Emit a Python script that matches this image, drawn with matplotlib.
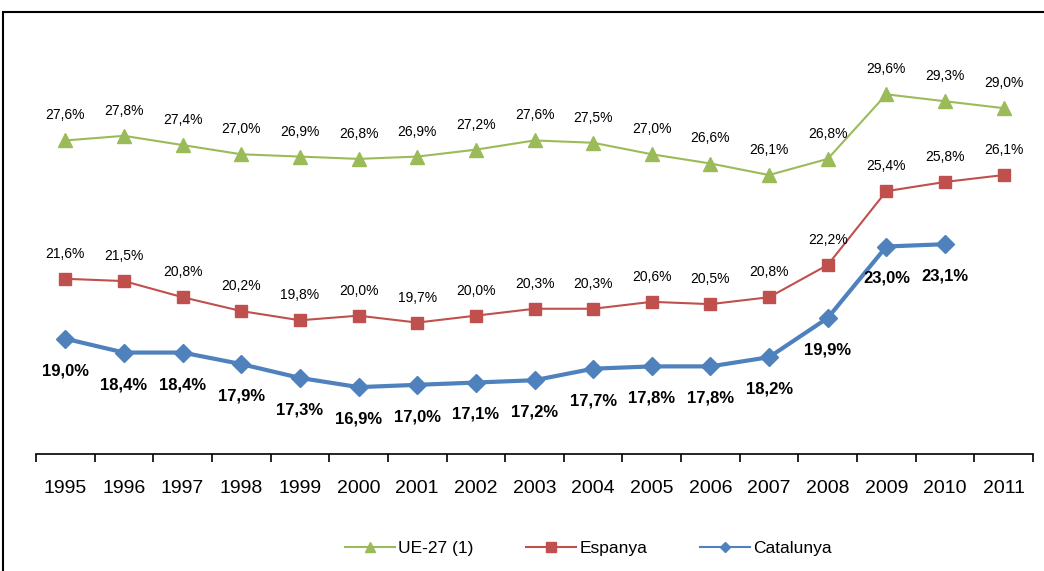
import matplotlib
matplotlib.use("Agg")
import matplotlib.pyplot as plt
from matplotlib.patches import Rectangle
from matplotlib.lines import Line2D
import numpy as np

years = ["1995", "1996", "1997", "1998", "1999", "2000", "2001", "2002", "2003",
         "2004", "2005", "2006", "2007", "2008", "2009", "2010", "2011"]
ue27 = [27.6, 27.8, 27.4, 27.0, 26.9, 26.8, 26.9, 27.2, 27.6, 27.5, 27.0, 26.6,
        26.1, 26.8, 29.6, 29.3, 29.0]
espanya = [21.6, 21.5, 20.8, 20.2, 19.8, 20.0, 19.7, 20.0, 20.3, 20.3, 20.6, 20.5,
           20.8, 22.2, 25.4, 25.8, 26.1]
catalunya = [19.0, 18.4, 18.4, 17.9, 17.3, 16.9, 17.0, 17.1, 17.2, 17.7, 17.8, 17.8,
             18.2, 19.9, 23.0, 23.1]
series_names = ["UE-27 (1)", "Espanya", "Catalunya"]

plt.rcParams['font.family'] = ['Liberation Sans', 'DejaVu Sans']

fig = plt.figure(figsize=(10.44, 5.71), dpi=100)
ax = fig.add_axes([36/1044, 1-454/571, (1033-36)/1044, (454-39)/571])

x = np.arange(len(years))
green, red, blue = "#9BBB59", "#C0504D", "#4F81BD"

ax.plot(x, ue27, color=green, lw=1.5, marker="^", ms=10)
ax.plot(x, espanya, color=red, lw=1.5, marker="s", ms=9)
ax.plot(x[:len(catalunya)], catalunya, color=blue, lw=3.0, marker="D", ms=9)

def fmt(v):
    return f"{v:.1f}%".replace(".", ",")

for xi, v in zip(x, ue27):
    ax.annotate(fmt(v), (xi, v), xytext=(0, 18), textcoords="offset points",
                ha="center", va="center", fontsize=10)
for xi, v in zip(x, espanya):
    ax.annotate(fmt(v), (xi, v), xytext=(0, 18), textcoords="offset points",
                ha="center", va="center", fontsize=10)
for xi, v in zip(x, catalunya):
    ax.annotate(fmt(v), (xi, v), xytext=(0, -23), textcoords="offset points",
                ha="center", va="center", fontsize=12, fontweight="bold")

ax.set_xlim(-0.5, len(years) - 0.5)
ax.set_ylim(14, 32)
ax.set_yticks([])
for s in ["top", "right", "left"]:
    ax.spines[s].set_visible(False)
ax.spines["bottom"].set_linewidth(1.2)
ax.set_xticks(np.arange(-0.5, len(years), 1.0))
ax.set_xticklabels([])
ax.tick_params(axis="x", direction="out", length=6, width=1.2)
ax.set_xticks(x, minor=True)
ax.set_xticklabels(years, minor=True, fontsize=14)
ax.tick_params(axis="x", which="minor", length=0, pad=19)

handles = [
    Line2D([], [], color=green, lw=1.5, marker="^", ms=7),
    Line2D([], [], color=red, lw=1.5, marker="s", ms=7),
    Line2D([], [], color=blue, lw=1.5, marker="D", ms=5),
]
ax.legend(handles, series_names, loc="center", bbox_to_anchor=(0.554, -0.228),
          ncol=3, frameon=False, fontsize=12.5, handlelength=2.9,
          columnspacing=3.0, handletextpad=0.2)

fig.add_artist(Rectangle((3/1044, -0.1), 1.2, 1 - 12/571 + 0.1,
                         transform=fig.transFigure, fill=False, lw=1.5,
                         edgecolor="black"))

fig.savefig("out.png", dpi=100)
